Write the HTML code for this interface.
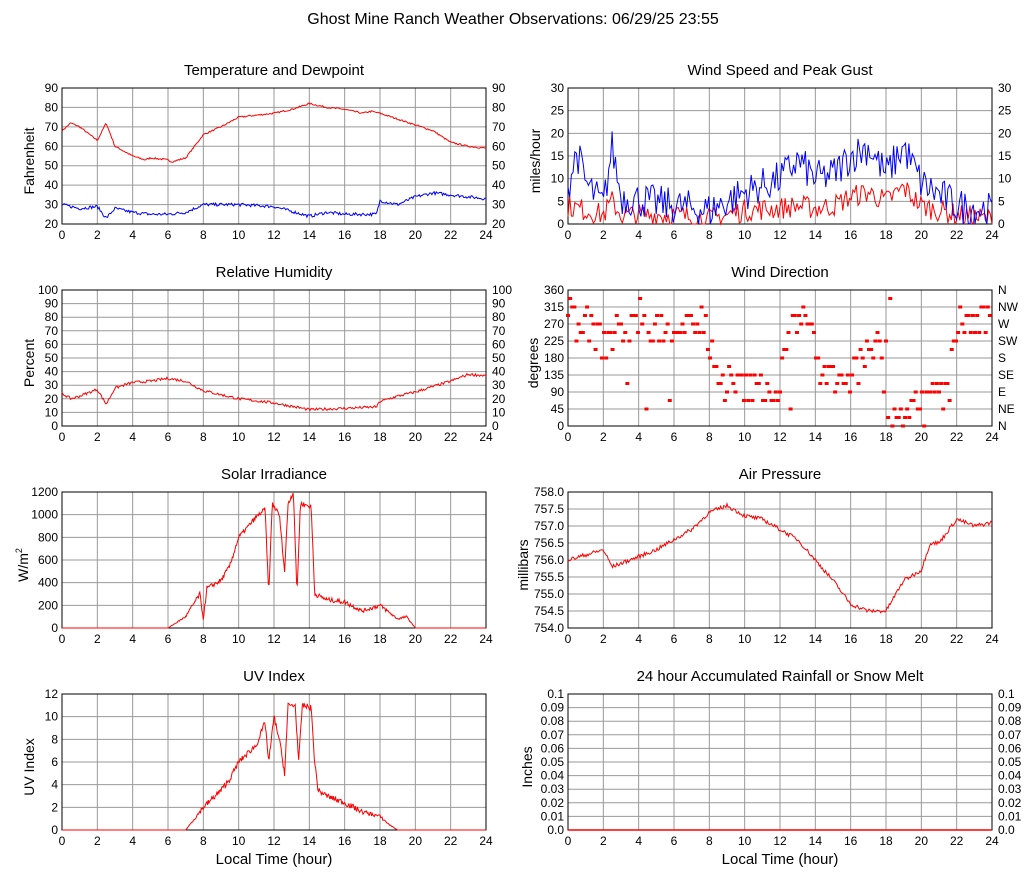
<!DOCTYPE html>
<html><head><meta charset="utf-8"><style>
html,body{margin:0;padding:0;background:#fff;}
svg{display:block;font-family:"Liberation Sans",sans-serif;}
</style></head><body>
<svg id="s" width="1027" height="878" xmlns="http://www.w3.org/2000/svg"></svg>
<script>
var S=document.getElementById('s');var out='';
var seed=7;function rnd(){seed=(seed*16807)%2147483647;return seed/2147483647;}
function T(x,y,t,o){o=o||{};out+='<text x="'+x+'" y="'+y+'" font-size="'+(o.fs||12)+'" text-anchor="'+(o.a||'middle')+'"'+(o.r?' transform="rotate(-90 '+x+' '+y+')"':'')+' fill="#000">'+t+'</text>';}
T(513,24,'Ghost Mine Ranch Weather Observations: 06/29/25 23:55',{fs:16});
function interp(pts,h){for(var i=0;i<pts.length-1;i++){if(h>=pts[i][0]&&h<=pts[i+1][0]){var f=(h-pts[i][0])/(pts[i+1][0]-pts[i][0]||1);return pts[i][1]+f*(pts[i+1][1]-pts[i][1]);}}return pts[pts.length-1][1];}
function panel(x0,y0,title,ymin,ymax,step,labs,ylab,right,dec){
 var w=424,h=136;
 T(x0+w/2,y0-13,title,{fs:15});
 for(var i=0;i<=12;i++){var x=x0+i*w/12;out+='<line x1="'+x+'" y1="'+y0+'" x2="'+x+'" y2="'+(y0+h)+'" stroke="#999"/>';T(x,y0+h+15,i*2);}
 var n=Math.round((ymax-ymin)/step);
 for(var j=0;j<=n;j++){var y=y0+h-j*h/n;var v=(ymin+j*step);var s=labs?labs[j]:(dec!=null?v.toFixed(dec):Math.round(v*100)/100);
  out+='<line x1="'+x0+'" y1="'+y+'" x2="'+(x0+w)+'" y2="'+y+'" stroke="#999"/>';
  T(x0-4,y+4,s,{a:'end'});if(right)T(x0+w+6,y+4,(labs&&right!=='num')?right[j]:s,{a:'start'});}
 out+='<rect x="'+x0+'" y="'+y0+'" width="'+w+'" height="'+h+'" fill="none" stroke="#000"/>';
 T(x0-(ylab[1]||28),y0+h/2+5,ylab[0],{fs:14,r:1});
 return function(v,hh){return [x0+hh*w/24,y0+h-(v-ymin)/(ymax-ymin)*h];};
}
function line(map,pts,noise,col,clip0,N,rel){N=N||400;var d='';for(var i=0;i<=N;i++){var hh=i*24/N;var b=interp(pts,hh);var v=b+(rnd()-0.5)*noise*(rel?Math.min(1,b/rel):1);if(clip0!=null&&v<clip0)v=clip0;var p=map(v,hh);d+=(i?'L':'M')+p[0].toFixed(1)+' '+p[1].toFixed(1);}out+='<path d="'+d+'" fill="none" stroke="'+col+'" stroke-width="1"/>';}
var L=62,R=568,r1=88,r2=290,r3=492,r4=694;
var m=panel(L,r1,'Temperature and Dewpoint',20,90,10,null,['Fahrenheit',28],true);
line(m,[[0,68],[0.5,72],[1,70],[2,63],[2.5,72],[3,60],[4,55],[4.7,53],[5,54],[6,53],[6.2,52],[7,54],[7.5,60],[8,66],[9,70],[10,75],[12,77],[13,79],[14,82],[15,80],[16,79],[17,77],[17.5,78],[18,77],[19,74],[20,71],[21,68],[22,62],[23,60],[24,59]],0.8,'#f00');
line(m,[[0,30],[1,28],[2,29],[2.5,23],[3,28],[4,26],[5,25],[6,25],[7,26],[8,30],[9,30],[10,30],[12,29],[14,24],[15,26],[16,25],[17.8,25],[18,32],[19,30],[20,34],[21,36],[22,35],[23,34],[24,33]],1.6,'#00f');
m=panel(R,r1,'Wind Speed and Peak Gust',0,30,5,null,['miles/hour',28],true);
line(m,[[0,4],[2,2],[2.5,5],[3,2],[6,2],[8,1],[10,3],[12,3.5],[13,4],[14,3.5],[15,4],[16,6],[17,7],[18,5],[19,8],[20,4],[22,2],[24,1]],5,'#f00',0,250);
line(m,[[0,8],[0.5,16],[1,9],[2,4],[2.5,17],[3,6],[6,4],[8,3],[10,7],[12,10],[13,14],[14,10],[15,11],[16,15],[17,17],[18,11],[19,17],[20,9],[22,4],[24,3]],8,'#00f',0,250);
m=panel(L,r2,'Relative Humidity',0,100,10,null,['Percent',28],true);
line(m,[[0,24],[0.5,20],[1,22],[2,27],[2.5,16],[3,28],[4,32],[5,33],[6,35],[7,33],[8,26],[9,23],[10,20],[12,17],[14,12],[16,13],[17.8,14],[18,18],[19,22],[20,25],[22,33],[23,38],[24,37]],2,'#f00');
m=panel(R,r2,'Wind Direction',0,360,45,['0','45','90','135','180','225','270','315','360'],['degrees',30],['N','NE','E','SE','S','SW','W','NW','N']);
var dirs=[[0,315],[1.5,250],[2,220],[3,260],[6,260],[7.8,280],[8,150],[9,110],[10,100],[12,100],[12.5,250],[13,280],[13.8,280],[14,150],[16,130],[17,200],[17.8,200],[18,30],[19.5,40],[20,90],[21.5,80],[22,270],[24,270]];
for(var i=0;i<200;i++){var hh=i*24/200;var v=interp(dirs,hh)+(rnd()-0.5)*90;if(rnd()<0.1)v=rnd()*360;v=Math.round(v/22.5)*22.5;if(v<0)v=0;if(v>360)v=360;var p=m(v,hh);out+='<rect x="'+(p[0]-2)+'" y="'+(p[1]-1.5)+'" width="4" height="3" fill="#f00"/>';}
m=panel(L,r3,'Solar Irradiance',0,1200,200,null,['W/m<tspan font-size="9" dy="-6">2</tspan>',34],false);
line(m,[[0,0],[6,0],[7,100],[7.8,300],[8,80],[8.2,350],[9,420],[9.5,550],[10,800],[11,980],[11.5,1050],[11.7,300],[11.9,1100],[12.3,1000],[12.6,500],[12.8,1100],[13.1,1200],[13.3,300],[13.5,1100],[14.1,1070],[14.2,700],[14.3,300],[15,250],[16,230],[17,150],[18,200],[19,80],[19.5,100],[20,0],[24,0]],40,'#f00',0,600,200);
m=panel(R,r3,'Air Pressure',754,758,0.5,null,['millibars',40],false,1);
line(m,[[0,756],[2,756.3],[2.5,755.8],[4,756.1],[5,756.3],[7,756.9],[8,757.4],[9,757.6],[10,757.3],[11,757.2],[13,756.6],[14,756],[15,755.4],[16,754.7],[17,754.5],[18,754.5],[19,755.4],[20,755.7],[20.5,756.5],[21,756.5],[22,757.2],[23,757],[24,757.1]],0.12,'#f00');
m=panel(L,r4,'UV Index',0,12,2,null,['UV Index',28],false);
line(m,[[0,0],[7,0],[7.5,1],[8,2],[9,3.5],[9.5,4.5],[10,6],[11,7.5],[11.5,9.5],[11.7,6],[12,10],[12.3,8],[12.6,5],[12.8,11],[13.2,11],[13.4,6],[13.6,11],[14.1,10.8],[14.3,6],[14.5,3.5],[15,3],[16,2.4],[17,1.6],[18,1.2],[18.5,0.5],[19,0],[24,0]],0.5,'#f00',0,600,2);
m=panel(R,r4,'24 hour Accumulated Rainfall or Snow Melt',0,0.1,0.01,['0.0','0.01','0.02','0.03','0.04','0.05','0.06','0.07','0.08','0.09','0.1'],['Inches',36],'num');
var p0=m(0,0),p1=m(0,24);out+='<line x1="'+p0[0]+'" y1="'+p0[1]+'" x2="'+p1[0]+'" y2="'+p1[1]+'" stroke="#f00" stroke-width="1.5"/>';
T(274,864,'Local Time (hour)',{fs:15});T(780,864,'Local Time (hour)',{fs:15});
S.innerHTML=out;
</script>
</body></html>
